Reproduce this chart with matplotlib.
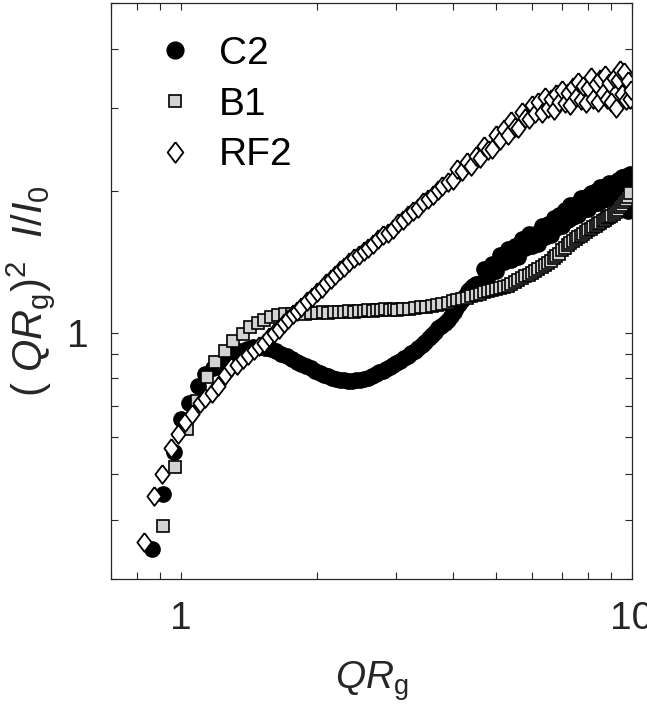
import matplotlib
matplotlib.use("Agg")
import matplotlib.pyplot as plt
from matplotlib.ticker import NullFormatter

plt.rcParams['font.family'] = ['Liberation Sans', 'DejaVu Sans']
plt.rcParams['mathtext.fontset'] = 'custom'
plt.rcParams['mathtext.rm'] = 'Liberation Sans'
plt.rcParams['mathtext.it'] = 'Liberation Sans:italic'

# q values shared by the dense high-q part of every curve
q_hi = [4.0, 4.1, 4.2, 4.3, 4.4, 4.5, 4.6, 4.7, 4.8, 4.9,
        5.0, 5.1, 5.2, 5.3, 5.4, 5.5, 5.6, 5.7, 5.8, 5.9,
        6.0, 6.1, 6.2, 6.3, 6.4, 6.5, 6.6, 6.7, 6.8, 6.9,
        7.0, 7.1, 7.2, 7.3, 7.4, 7.5, 7.6, 7.7, 7.8, 7.9,
        8.0, 8.1, 8.2, 8.3, 8.4, 8.5, 8.6, 8.7, 8.8, 8.9,
        9.0, 9.1, 9.2, 9.3, 9.4, 9.5, 9.6, 9.7, 9.8, 9.9]

# C2 (filled circles)
c2_q = [0.861, 0.911, 0.965, 1.0, 1.043, 1.092, 1.13, 1.175, 1.22, 1.265,
        1.31, 1.355, 1.40, 1.445, 1.49, 1.535, 1.58, 1.625, 1.67, 1.715,
        1.76, 1.805, 1.85, 1.895, 1.94, 1.985, 2.03, 2.075, 2.12, 2.165,
        2.21, 2.255, 2.30, 2.35, 2.40, 2.45, 2.50, 2.55, 2.60, 2.65,
        2.70, 2.75, 2.80, 2.85, 2.90, 2.95, 3.0, 3.06, 3.12, 3.18,
        3.24, 3.30, 3.36, 3.42, 3.48, 3.54, 3.60, 3.66, 3.72, 3.78,
        3.84, 3.90, 3.96, 4.02, 4.08, 4.14, 4.20, 4.26, 4.32, 4.38,
        4.44, 4.50] + q_hi[6:] + [9.82]
c2_y = [0.347, 0.455, 0.557, 0.654, 0.708, 0.772, 0.818, 0.842, 0.863, 0.884,
        0.901, 0.915, 0.924, 0.933, 0.933, 0.928, 0.924, 0.915, 0.901, 0.893,
        0.880, 0.867, 0.859, 0.850, 0.842, 0.830, 0.822, 0.814, 0.810, 0.802,
        0.798, 0.794, 0.792, 0.790, 0.790, 0.792, 0.794, 0.798, 0.802, 0.810,
        0.816, 0.824, 0.830, 0.838, 0.846, 0.852, 0.861, 0.871, 0.882, 0.893,
        0.904, 0.915, 0.928, 0.942, 0.956, 0.975, 0.989, 1.003, 1.023, 1.033,
        1.048, 1.064, 1.085, 1.106, 1.128, 1.150, 1.173, 1.196, 1.225, 1.236,
        1.255, 1.268,
        1.274, 1.364, 1.318, 1.397,
        1.350, 1.460, 1.411, 1.503, 1.425, 1.525, 1.446, 1.578, 1.510, 1.617,
        1.525, 1.617, 1.540, 1.681, 1.594, 1.698, 1.609, 1.748, 1.665, 1.774,
        1.681, 1.817, 1.731, 1.862, 1.757, 1.871, 1.774, 1.927, 1.817, 1.936,
        1.826, 1.974, 1.871, 1.994, 1.880, 2.033, 1.909, 2.043, 1.936, 2.073,
        1.936, 2.073, 1.965, 2.104, 1.974, 2.135, 1.984, 2.145, 2.043, 2.166,
        1.809]

# B1 (grey squares)
b1_q = [0.914, 0.971, 1.033, 1.085, 1.14, 1.19, 1.25, 1.306, 1.37, 1.42,
        1.48, 1.53, 1.58, 1.64, 1.70, 1.76, 1.82, 1.88, 1.94, 2.00,
        2.06, 2.12, 2.18, 2.24, 2.30, 2.36, 2.42, 2.48, 2.54, 2.60,
        2.66, 2.72, 2.78, 2.84, 2.90, 2.96, 3.02, 3.1, 3.2, 3.3,
        3.4, 3.5, 3.6, 3.7, 3.8, 3.9] + q_hi
b1_y = [0.389, 0.518, 0.625, 0.717, 0.803, 0.864, 0.915, 0.960, 0.994, 1.028,
        1.048, 1.064, 1.077, 1.087, 1.093, 1.095, 1.098, 1.095, 1.101, 1.098,
        1.103, 1.101, 1.103, 1.106, 1.103, 1.109, 1.106, 1.111, 1.109, 1.114,
        1.111, 1.117, 1.114, 1.120, 1.117, 1.120, 1.117, 1.122, 1.122, 1.125,
        1.131, 1.133, 1.139, 1.144, 1.150, 1.156,
        1.164, 1.170, 1.178, 1.186, 1.196, 1.201, 1.207, 1.216, 1.225, 1.231,
        1.237, 1.243, 1.249, 1.258, 1.268, 1.280, 1.293, 1.305, 1.315, 1.324,
        1.338, 1.350, 1.364, 1.377, 1.391, 1.404, 1.418, 1.436, 1.453, 1.467,
        1.495, 1.512, 1.530, 1.548, 1.562, 1.578, 1.592, 1.606, 1.620, 1.634,
        1.647, 1.660, 1.672, 1.685, 1.697, 1.710, 1.723, 1.736, 1.749, 1.760,
        1.765, 1.782, 1.800, 1.817, 1.844, 1.862, 1.890, 1.909, 1.936, 1.974]

# RF2 (open diamonds)
rf2_q = [0.83, 0.87, 0.91, 0.95, 0.985, 1.02, 1.06, 1.10, 1.13, 1.17,
         1.21, 1.25, 1.29, 1.33, 1.37, 1.41, 1.45, 1.49, 1.53, 1.57,
         1.61, 1.65, 1.69, 1.73, 1.77, 1.81, 1.85, 1.90, 1.95, 2.00,
         2.05, 2.10, 2.15, 2.20, 2.25, 2.30, 2.36, 2.42, 2.48, 2.54,
         2.60, 2.67, 2.74, 2.81, 2.88, 2.95, 3.03, 3.11, 3.19, 3.27,
         3.35, 3.44, 3.53, 3.62, 3.71, 3.80, 3.90] + q_hi + [9.95]
rf2_y = [0.359, 0.451, 0.501, 0.570, 0.610, 0.647, 0.673, 0.710, 0.727, 0.746,
         0.772, 0.814, 0.843, 0.854, 0.878, 0.897, 0.919, 0.937, 0.951, 0.980,
         0.999, 1.018, 1.048, 1.069, 1.095, 1.111, 1.133, 1.167, 1.190, 1.219,
         1.244, 1.274, 1.298, 1.324, 1.357, 1.377, 1.411, 1.439, 1.460, 1.489,
         1.510, 1.540, 1.579, 1.610, 1.625, 1.657, 1.706, 1.731, 1.773, 1.809,
         1.836, 1.890, 1.918, 1.955, 2.004, 2.043, 2.083,
         2.104, 2.220, 2.198, 2.296, 2.252, 2.364, 2.341, 2.482, 2.434, 2.446,
         2.619, 2.556, 2.697, 2.619, 2.804, 2.724, 2.710, 2.930, 2.846, 2.831,
         3.031, 2.916, 3.076, 2.916, 3.152, 3.001, 3.136, 2.958, 3.198, 3.076,
         3.277, 3.061, 3.229, 3.031, 3.325, 3.152, 3.407, 3.106, 3.341, 3.061,
         3.309, 3.491, 3.136, 3.374, 3.076, 3.457, 3.229, 3.526, 3.121, 3.390,
         3.076, 3.474, 2.987, 3.440, 3.612, 3.198, 3.577, 3.106, 3.424, 3.136,
         3.277]

x_ticks = [1, 10]
x_tick_labels = ['1', '10']
y_ticks = [1]
y_tick_labels = ['1']

axis_color = '#262626'
diamond = [(0, 1), (0.76, 0), (0, -1), (-0.76, 0), (0, 1)]

fig = plt.figure(figsize=(6.47, 7.13), dpi=100)
ax = fig.add_axes([0.1716, 0.1879, 0.8053, 0.8079])

ax.plot(c2_q, c2_y, linestyle='none', marker='o', markersize=11,
        markerfacecolor='black', markeredgecolor='black', markeredgewidth=1.0, label='C2')
ax.plot(b1_q, b1_y, linestyle='none', marker='s', markersize=8,
        markerfacecolor='#d3d3d3', markeredgecolor='black', markeredgewidth=1.2, label='B1')
ax.plot(rf2_q, rf2_y, linestyle='none', marker=diamond, markersize=13.5,
        markerfacecolor='white', markeredgecolor='black', markeredgewidth=1.3, label='RF2')

ax.set_xscale('log')
ax.set_yscale('log')
ax.set_xlim(0.7, 10)
ax.set_ylim(0.3, 5)

ax.set_xticks(x_ticks)
ax.set_xticklabels(x_tick_labels)
ax.set_yticks(y_ticks)
ax.set_yticklabels(y_tick_labels)
ax.xaxis.set_minor_formatter(NullFormatter())
ax.yaxis.set_minor_formatter(NullFormatter())

for side in ax.spines.values():
    side.set_color(axis_color)
    side.set_linewidth(0.9)
ax.tick_params(which='both', direction='in', top=True, right=True,
               color=axis_color, width=0.8, length=5, labelcolor=axis_color)
ax.tick_params(which='major', labelsize=28, pad=16)

ax.set_xlabel(r'$QR_{\mathrm{g}}$', fontsize=28, color=axis_color)
ax.set_ylabel(r'( $QR_{\mathrm{g}}$)$^2$  $I/I_0$', fontsize=30, color=axis_color)
ax.xaxis.set_label_coords(0.5, -0.14)
ax.yaxis.set_label_coords(-0.104, 0.5)

ax.legend(loc='upper left', bbox_to_anchor=(0.085, 0.943), frameon=False,
          fontsize=28, handlelength=1.0, handletextpad=0.63, labelspacing=0.38,
          borderpad=0, borderaxespad=0, numpoints=1, markerscale=1.1,
          labelcolor='black')

fig.savefig('out.png', dpi=100)
